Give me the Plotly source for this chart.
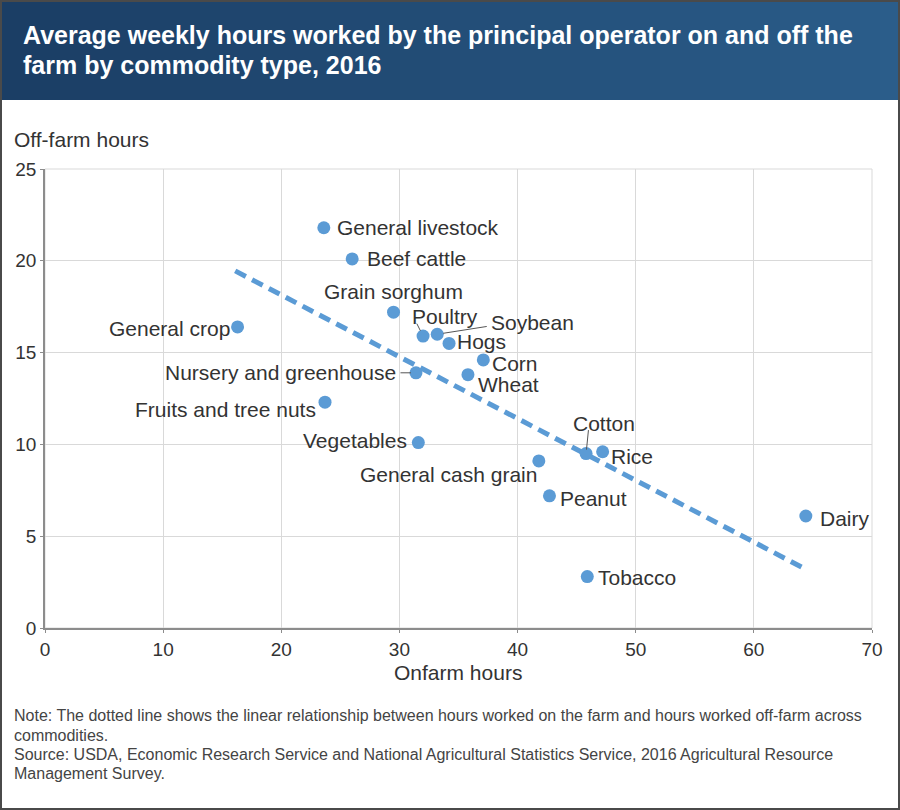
import plotly.graph_objects as go

# 数据：各商品类型的农场内/外平均每周工作小时数 (2016)
commodities = ["General livestock", "Beef cattle", "Grain sorghum", "General crop",
               "Poultry", "Soybean", "Hogs", "Corn", "Nursery and greenhouse", "Wheat",
               "Fruits and tree nuts", "Vegetables", "General cash grain", "Cotton",
               "Rice", "Peanut", "Dairy", "Tobacco"]
onfarm_hours = [23.6, 26.0, 29.5, 16.3, 32.0, 33.2, 34.2, 37.1, 31.4, 35.8,
                23.7, 31.6, 41.8, 45.8, 47.2, 42.7, 64.4, 45.9]
offfarm_hours = [21.8, 20.1, 17.2, 16.4, 15.9, 16.0, 15.5, 14.6, 13.9, 13.8,
                 12.3, 10.1, 9.1, 9.5, 9.6, 7.2, 6.1, 2.8]

# 线性趋势线的两个端点
trend_onfarm = [16.1, 64.1]
trend_offfarm = [19.45, 3.3]

x_ticks = [0, 10, 20, 30, 40, 50, 60, 70]
y_ticks = [0, 5, 10, 15, 20, 25]

title_lines = ["Average weekly hours worked by the principal operator on and off the",
               "farm by commodity type, 2016"]
note_lines = ["Note: The dotted line shows the linear relationship between hours worked on the farm and hours worked off-farm across",
              "commodities.",
              "Source: USDA, Economic Research Service and National Agricultural Statistics Service, 2016 Agricultural Resource",
              "Management Survey."]

# 标签位置 (xanchor, xshift, yshift)
label_pos = {
    "General livestock": ("left", 12, 0),
    "Beef cattle": ("left", 14, 0),
    "Grain sorghum": ("center", 0, 21),
    "General crop": ("right", -7, -1.5),
    "Poultry": ("center", 22, 20),
    "Soybean": ("left", 53, 12),
    "Hogs": ("left", 7, 1.5),
    "Corn": ("left", 8, -3.5),
    "Nursery and greenhouse": ("right", -19, 0),
    "Wheat": ("left", 9, -9.5),
    "Fruits and tree nuts": ("right", -8, -7),
    "Vegetables": ("right", -10, 2),
    "General cash grain": ("right", -1, -14),
    "Cotton": ("center", 18, 30),
    "Rice": ("left", 7, -5),
    "Peanut": ("left", 10, -3),
    "Dairy": ("left", 13, -2),
    "Tobacco": ("left", 10, -1),
}
# 引线 (ax, ay, standoff)
leaders = {
    "Poultry": (-7, -14, 6),
    "Soybean": (51, -8, 6),
    "Nursery and greenhouse": (-17, 0, 5),
    "Cotton": (2.5, -25, 4),
}

W, H = 900, 810
L, R, T, B = 45, 28, 169, 182
pw, ph = W - L - R, H - T - B


def px(x):
    return (x - L) / pw


def py(y):
    return (H - B - y) / ph


FONT = "Liberation Sans, Arial, sans-serif"
BLUE = "#5b9bd5"
TXT = "#333333"

fig = go.Figure()

fig.add_trace(go.Scatter(x=trend_onfarm, y=trend_offfarm, mode="lines",
                         line=dict(color=BLUE, width=5, dash="12px,7px"),
                         hoverinfo="skip", showlegend=False))
fig.add_trace(go.Scatter(x=onfarm_hours, y=offfarm_hours, mode="markers",
                         marker=dict(color=BLUE, size=13),
                         text=commodities, showlegend=False,
                         hovertemplate="%{text}<br>On-farm: %{x}<br>Off-farm: %{y}<extra></extra>"))

# 数据标签
for name, xv, yv in zip(commodities, onfarm_hours, offfarm_hours):
    anchor, xs, ys = label_pos[name]
    fig.add_annotation(x=xv, y=yv, text=name, showarrow=False, borderpad=0,
                       xanchor=anchor, yanchor="middle", xshift=xs, yshift=ys,
                       font=dict(family=FONT, size=21, color=TXT))
    if name in leaders:
        ax, ay, so = leaders[name]
        fig.add_annotation(x=xv, y=yv, text="", showarrow=True, arrowhead=0,
                           arrowwidth=1, arrowcolor="#555555", ax=ax, ay=ay,
                           standoff=so)

shapes = []
# 标题栏渐变背景
n = 45
c0, c1 = (27, 62, 101), (43, 93, 138)
for i in range(n):
    t = i / (n - 1)
    col = "rgb(%d,%d,%d)" % tuple(int(a + (b - a) * t) for a, b in zip(c0, c1))
    shapes.append(dict(type="rect", xref="paper", yref="paper",
                       x0=px(W * i / n), x1=px(W * (i + 1) / n + 1),
                       y0=py(100), y1=py(0), line=dict(width=0), fillcolor=col,
                       layer="below"))
# 绘图区上/右边框
shapes.append(dict(type="rect", xref="paper", yref="paper", x0=0, x1=1, y0=0, y1=1,
                   line=dict(color="#d9d9d9", width=1), layer="below"))
# 图片外边框
shapes.append(dict(type="rect", xref="paper", yref="paper",
                   x0=px(1), x1=px(W - 1), y0=py(H - 1), y1=py(1),
                   line=dict(color="#4a4a4a", width=2)))

# 标题（两行）
for txt, yc in zip(title_lines, [35, 64.5]):
    fig.add_annotation(xref="paper", yref="paper", x=px(21), y=py(yc),
                       xanchor="left", yanchor="middle", showarrow=False, text=txt,
                       font=dict(family=FONT, size=25, color="white", weight="bold"))
fig.add_annotation(xref="paper", yref="paper", x=px(12), y=py(140),
                   xanchor="left", yanchor="middle", showarrow=False,
                   text="Off-farm hours", font=dict(family=FONT, size=21, color=TXT))
fig.add_annotation(xref="paper", yref="paper", x=px(458), y=py(672),
                   xanchor="center", yanchor="middle", showarrow=False,
                   text="Onfarm hours", font=dict(family=FONT, size=21, color=TXT))
# 注释与数据来源
for txt, yc in zip(note_lines, [715, 735, 754, 773]):
    fig.add_annotation(xref="paper", yref="paper", x=px(12), y=py(yc),
                       xanchor="left", yanchor="middle", showarrow=False, text=txt,
                       font=dict(family=FONT, size=16, color="#444444"))

fig.update_layout(
    width=W, height=H,
    margin=dict(l=L, r=R, t=T, b=B),
    paper_bgcolor="white", plot_bgcolor="white",
    font=dict(family=FONT, color=TXT),
    shapes=shapes,
    hovermode="closest",
)
fig.update_xaxes(range=[0, 70], tickvals=x_ticks, showgrid=True, gridcolor="#d9d9d9",
                 zeroline=False, showline=True, linecolor="#8c8c8c", linewidth=1.5,
                 ticks="outside", ticklen=3, tickcolor="#8c8c8c",
                 tickfont=dict(family=FONT, size=19, color=TXT), fixedrange=True)
fig.update_yaxes(range=[0, 25], tickvals=y_ticks, showgrid=True, gridcolor="#d9d9d9",
                 zeroline=False, showline=True, linecolor="#8c8c8c", linewidth=1.5,
                 ticks="outside", ticklen=3, tickcolor="#8c8c8c",
                 tickfont=dict(family=FONT, size=19, color=TXT), fixedrange=True)

fig.write_html("out.html", config={"displayModeBar": False},
               post_script="document.body.style.margin='0';document.body.style.overflow='hidden';")
